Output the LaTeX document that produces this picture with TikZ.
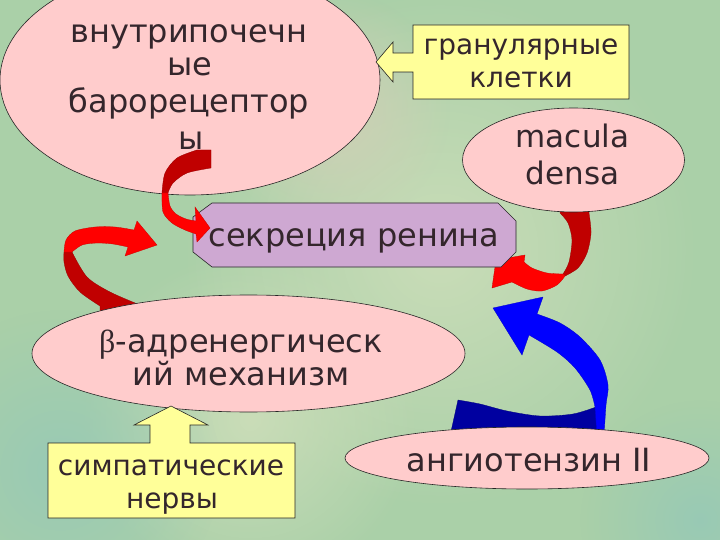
\documentclass[tikz,border=0pt]{standalone}
\usepackage{fontspec}
\setmainfont{DejaVu Sans}
\newfontfamily\grk{Liberation Serif}
\usetikzlibrary{shapes.geometric,fadings}
\definecolor{bgbase}{RGB}{170,208,168}
\definecolor{bglight}{RGB}{210,224,188}
\definecolor{bgteal}{RGB}{148,200,184}
\definecolor{bgpink}{RGB}{214,206,184}
\definecolor{pinkfill}{RGB}{255,204,204}
\definecolor{lilac}{RGB}{206,168,210}
\definecolor{yel}{RGB}{255,255,153}
\definecolor{txt}{RGB}{52,38,44}
\definecolor{redA}{RGB}{255,0,0}
\definecolor{redB}{RGB}{192,0,0}
\definecolor{bluA}{RGB}{0,0,255}
\definecolor{bluB}{RGB}{0,0,160}
\tikzfading[name=blob, inner color=transparent!20, outer color=transparent!100]
\begin{document}
\begin{tikzpicture}[x=1pt,y=-1pt,
  pinkell/.style={ellipse, draw=black!85, line width=0.6pt, fill=pinkfill, inner sep=0pt},
  lbl/.style={anchor=base, text=txt, inner sep=0pt, font=\fontsize{28}{34}\selectfont},
  lblbig/.style={lbl, font=\fontsize{32}{38}\selectfont},
  lblmid/.style={lbl, font=\fontsize{31}{37}\selectfont},
  rib/.style={line width=0.3pt}]
\useasboundingbox (0,0) rectangle (720,540);
% background
\fill[bgbase] (0,0) rectangle (720,540);
\fill[bglight, path fading=blob] (440,250) circle (260pt);
\fill[bglight, path fading=blob] (250,420) circle (170pt);
\fill[bgteal, path fading=blob] (60,470) circle (160pt);
\fill[bgteal, path fading=blob] (700,520) circle (120pt);
\fill[bgpink, path fading=blob] (330,110) circle (120pt);

% ribbon arrow: beta -> renin (left)
\fill[redB, draw=redB!80!black, rib] (64,252) -- (72,252)
  -- plot[smooth] coordinates {(72,252) (87,277) (110,292) (140,305)} -- (140,312) -- (100,312)
  -- plot[smooth] coordinates {(100,306) (80,292) (68,276) (64,262) (64,252)} -- cycle;
\fill[redA, draw=red!80!black, rib] (64,252)
  -- plot[smooth] coordinates {(64,252) (66,240) (75,231) (95,227) (115,227) (134,230)}
  -- (137,221) -- (157,245) -- (125,256) -- (128,247)
  -- plot[smooth] coordinates {(128,247) (113,244) (97,243) (82,245) (72,252)} -- cycle;

% ribbon arrow: macula densa -> renin
\fill[redB, draw=redB!80!black, rib] (560,200) -- (590,200) -- (589,213)
  -- plot[smooth] coordinates {(589,213) (591,233) (587,253) (578,268) (565,276)}
  -- (563,274)
  -- plot[smooth] coordinates {(563,274) (569,262) (572,240) (568,223) (560,213)} -- cycle;
\fill[redA, draw=red!80!black, rib] (565,276)
  -- plot[smooth] coordinates {(565,276) (557,285) (542,291) (527,289) (512,282)}
  -- (492,288) -- (496,260) -- (525,255) -- (524,262)
  -- plot[smooth] coordinates {(524,262) (532,268) (547,273) (563,274)} -- cycle;

% ribbon arrow: angiotensin II -> renin (blue)
\fill[bluB, draw=bluB!80!black, rib] (450,436) -- (458,400)
  -- plot[smooth] coordinates {(458,400) (480,404) (507,411) (540,416) (573,414) (596,407)}
  -- (598,436) -- cycle;
\fill[bluA, draw=blue!80!black, rib] (597,436) -- (595,407)
  -- plot[smooth] coordinates {(595,407) (590,390) (575,368) (557,352) (529,335)}
  -- (522,355) -- (493,308) -- (543,297) -- (537,314)
  -- plot[smooth] coordinates {(537,314) (560,323) (580,337) (600,360) (608,385) (606,405) (604,436)} -- cycle;

% shapes
\node[pinkell, minimum width=380pt, minimum height=230pt] (baro) at (190,80) {};
\node[pinkell, minimum width=222pt, minimum height=104pt] (macula) at (573.5,160) {};
\node[pinkell, minimum width=433pt, minimum height=117pt] (beta) at (248.5,353.5) {};
\node[pinkell, minimum width=364pt, minimum height=62pt] (angio) at (527,458) {};
\fill[lilac, draw=black!85, line width=0.6pt] (212,203) -- (498,203) -- (516,221) -- (516,252)
  -- (501,267) -- (212,267) -- (193,252) -- (193,217) -- cycle;

% ribbon arrow: baroreceptors -> renin
\fill[redB, draw=redB!80!black, rib] (197,150) -- (211,150) -- (211,168)
  -- plot[smooth] coordinates {(211,168) (187,173) (173,183) (168,193)} -- (162,193)
  -- plot[smooth] coordinates {(162,193) (165,173) (177,158) (197,150)} -- cycle;
\fill[redA, draw=red!80!black, rib] (162,193)
  -- plot[smooth] coordinates {(162,193) (163,212) (172,223) (185,230) (196,234)}
  -- (197,242) -- (210,228) -- (195,207) -- (196,221)
  -- plot[smooth] coordinates {(196,221) (186,219) (176,214) (170,206) (168,193)} -- cycle;

% callouts
\fill[yel, draw=black!85, line width=0.6pt] (413,25) -- (629,25) -- (629,99) -- (413,99) -- (413,72)
  -- (393,72) -- (393,82) -- (376,62) -- (393,42) -- (393,53) -- (413,53) -- cycle;
\fill[yel, draw=black!85, line width=0.6pt] (48,443) -- (150,443) -- (150,425) -- (134,425) -- (171,406)
  -- (208,425) -- (190,425) -- (190,443) -- (295,443) -- (295,518) -- (48,518) -- cycle;

% texts
\node[lblbig] (b1) at (189,43) {внутрипочечн};
\node[lblbig] (b2) at (190,76) {ые};
\node[lblbig] (b3) at (189,113) {барорецептор};
\node[lblbig] (b4) at (191,150) {ы};
\node[lblmid] (m1) at (572.5,148) {macula};
\node[lblmid] (m2) at (572.5,185) {densa};
\node[lblbig] (r1) at (354,247) {секреция ренина};
\node[lblbig] (be1) at (241,352) {{\grk β}-адренергическ};
\node[lblbig] (be2) at (241,385) {ий механизм};
\node[lbl] (g1) at (521,55) {гранулярные};
\node[lbl] (g2) at (521,88) {клетки};
\node[lbl] (s1) at (171,475) {симпатические};
\node[lbl] (s2) at (172,508) {нервы};
\node[lblbig] (a1) at (529,471) {ангиотензин II};
\end{tikzpicture}
\end{document}
